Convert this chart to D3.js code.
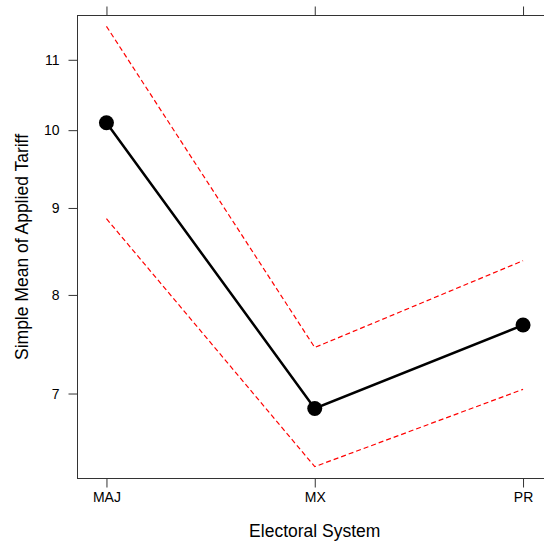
<!DOCTYPE html>
<html>
<head>
<meta charset="utf-8">
<script src="https://cdn.jsdelivr.net/npm/d3@7"></script>
<style>
	html, body { margin: 0; padding: 0; background: #fff; }
	#diagram1 { width: 544px; height: 542px; overflow: hidden; }
	.chart_area text { font-family: "Liberation Sans", Arial, Helvetica, sans-serif; fill: #000; }
</style>
</head>
<body>
<div id="diagram1"></div>
<script>
// Data
var systems = ['MAJ', 'MX', 'PR'];
var meanTariff = [10.10, 6.86, 7.68];
var upperBound = [11.51, 7.45, 8.38];
var lowerBound = [8.87, 6.34, 7.04];
var yTicks = [7, 8, 9, 10, 11];
var yLimits = [6.239, 11.68];

function createLineDiagram(){
	var 
	CHART_WIDTH = 544,
	CHART_HEIGHT = 542;
	var
	PLOT_LEFT = 77.5,
	PLOT_RIGHT = 552,   // panel box runs past the right edge
	PLOT_TOP = 15.5,
	PLOT_BOTTOM = 478.5,
	TICK = 9;

	var svg = d3
	.select('#diagram1')
	.append('svg')
	.attr('class', 'chart_area')
	.attr('width', CHART_WIDTH)
	.attr('height', CHART_HEIGHT)
	;

	var x = d3.scalePoint()
	.domain(systems)
	.range([PLOT_LEFT, PLOT_RIGHT])
	.padding(0.139)
	;
	var y = d3.scaleLog()
	.domain(yLimits)
	.range([PLOT_BOTTOM, PLOT_TOP])
	;

	var rows = systems.map(function(s, i) {
		return {sys: s, mean: meanTariff[i], hi: upperBound[i], lo: lowerBound[i]};
	});

	// panel box
	svg.append('rect')
	.attr('x', PLOT_LEFT)
	.attr('y', PLOT_TOP)
	.attr('width', PLOT_RIGHT - PLOT_LEFT)
	.attr('height', PLOT_BOTTOM - PLOT_TOP)
	.attr('fill', 'none')
	.attr('stroke', '#333')
	.attr('stroke-width', 1)
	;

	// axes: left with labels, bottom with labels, top ticks only
	var leftAxis = d3.axisLeft(y)
	.tickValues(yTicks)
	.tickFormat(d3.format('d'))
	.tickSizeInner(TICK)
	.tickSizeOuter(0)
	.tickPadding(9)
	;
	var gl = svg.append('g')
	.attr('transform', 'translate(' + PLOT_LEFT + ',0)')
	.call(leftAxis)
	;
	var bottomAxis = d3.axisBottom(x)
	.tickSizeInner(TICK)
	.tickSizeOuter(0)
	.tickPadding(5)
	;
	var gb = svg.append('g')
	.attr('transform', 'translate(0,' + PLOT_BOTTOM + ')')
	.call(bottomAxis)
	;
	var gt = svg.append('g')
	.attr('transform', 'translate(0,' + PLOT_TOP + ')')
	.call(d3.axisTop(x).tickSizeInner(TICK).tickSizeOuter(0).tickFormat(''))
	;
	[gl, gb, gt].forEach(function(g) {
		g.select('.domain').remove();
		g.selectAll('line').attr('stroke', '#333');
		g.selectAll('text')
		.attr('font-size', '14px')
		.attr('font-family', '"Liberation Sans", Arial, sans-serif')
		.attr('fill', '#000');
	});

	// confidence bounds (red dashed)
	var hiLine = d3.line()
	.x(function(d) { return x(d.sys); })
	.y(function(d) { return y(d.hi); });
	var loLine = d3.line()
	.x(function(d) { return x(d.sys); })
	.y(function(d) { return y(d.lo); });
	[hiLine, loLine].forEach(function(l) {
		svg.append('path')
		.datum(rows)
		.attr('d', l)
		.attr('fill', 'none')
		.attr('stroke', '#ff0000')
		.attr('stroke-width', 1.2)
		.attr('stroke-dasharray', '5,3')
		;
	});

	// mean line with dots
	svg.append('path')
	.datum(rows)
	.attr('d', d3.line()
		.x(function(d) { return x(d.sys); })
		.y(function(d) { return y(d.mean); }))
	.attr('fill', 'none')
	.attr('stroke', '#000')
	.attr('stroke-width', 2.5)
	;
	svg.selectAll('circle.pt')
	.data(rows)
	.enter()
	.append('circle')
	.attr('class', 'pt')
	.attr('cx', function(d) { return x(d.sys); })
	.attr('cy', function(d) { return y(d.mean); })
	.attr('r', 7.5)
	.attr('fill', '#000')
	;

	// axis titles
	svg.append('text')
	.attr('x', (PLOT_LEFT + PLOT_RIGHT) / 2)
	.attr('y', 537)
	.attr('text-anchor', 'middle')
	.attr('font-size', '17.5px')
	.text('Electoral System');
	svg.append('text')
	.attr('transform', 'translate(27.5,' + ((PLOT_TOP + PLOT_BOTTOM) / 2) + ') rotate(-90)')
	.attr('text-anchor', 'middle')
	.attr('font-size', '17.5px')
	.text('Simple Mean of Applied Tariff');
}

createLineDiagram();
</script>
</body>
</html>
